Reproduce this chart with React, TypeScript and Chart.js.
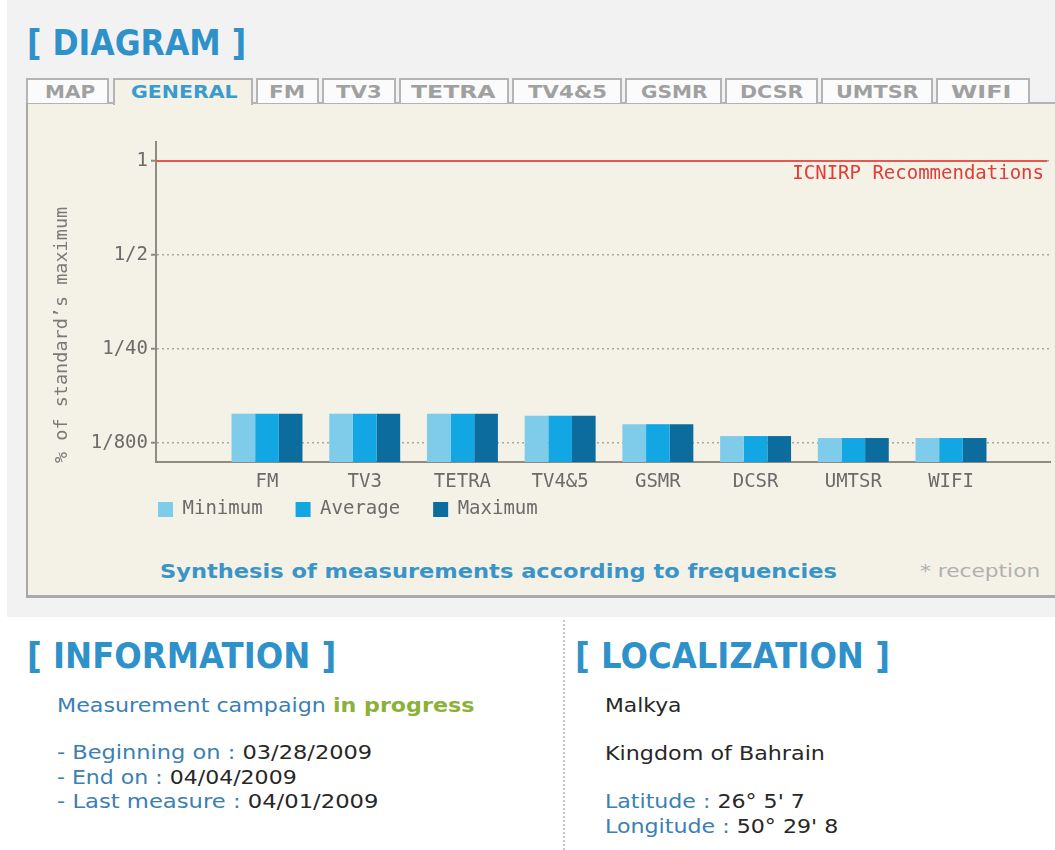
import React, { useEffect, useLayoutEffect, useRef } from "react";
import { Chart, registerables } from "chart.js";

Chart.register(...registerables);

// ---------- data ----------
const CATEGORIES = ["FM", "TV3", "TETRA", "TV4&5", "GSMR", "DCSR", "UMTSR", "WIFI"];
// bar heights, in units of the level axis (0 = "1/800", 1 = "1/40", 2 = "1/2", 3 = "1")
const MINIMUM = [0.31, 0.31, 0.31, 0.29, 0.2, 0.074, 0.053, 0.053];
const AVERAGE = [0.31, 0.31, 0.31, 0.29, 0.2, 0.074, 0.053, 0.053];
const MAXIMUM = [0.31, 0.31, 0.31, 0.29, 0.2, 0.074, 0.053, 0.053];
const SERIES_NAMES = ["Minimum", "Average", "Maximum"];
const Y_TICK_LABELS = ["1/800", "1/40", "1/2", "1"];
const LIMIT_LEVEL = 3;
const LIMIT_LABEL = "ICNIRP Recommendations";
const Y_TITLE = "% of standard\u2019s maximum";
const TAB_LABELS = ["MAP", "GENERAL", "FM", "TV3", "TETRA", "TV4&5", "GSMR", "DCSR", "UMTSR", "WIFI"];
const ACTIVE_TAB = "GENERAL";

// ---------- styles / layout ----------
const MONO = "'DejaVu Sans Mono', monospace";
const SANS = "'DejaVu Sans', Verdana, sans-serif";
const SERIES_COLORS = ["#7ecbea", "#12a6e2", "#0b6c9d"];
const AXIS_COLOR = "#8e8b84";
const GRID_COLOR = "#aaa79d";
const TICK_TEXT = "#6b6b6b";
const BLUE_HEAD = "#2f91c9";
const BLUE_LABEL = "#3a80b2";
const DARK = "#272727";
const GREEN = "#8ab23a";

const YMIN = -0.202;
const YMAX = 3.202;
const XMIN = -1.136;
const XMAX = 8.013;

// [left, right, textStart, textEnd] for each tab
const TAB_LAYOUT: number[][] = [
  [26, 109, 45, 95],
  [113, 253, 131, 238],
  [256, 319, 269, 305],
  [322, 396, 336, 382],
  [399, 509, 411, 496],
  [512, 622, 528, 607],
  [625, 722, 641, 708],
  [725, 818, 740, 803],
  [821, 933, 836, 919],
  [936, 1030, 951, 1012],
];

function FitText(props: any) {
  const { x, baseline, size, width, bold, color, children } = props;
  const ref = useRef<HTMLDivElement>(null);
  useLayoutEffect(() => {
    const el = ref.current;
    if (!el || !width) return;
    el.style.transform = "none";
    const w = el.offsetWidth;
    if (w > 0) el.style.transform = `scaleX(${width / w})`;
  });
  return (
    <div
      ref={ref}
      style={{
        position: "absolute",
        left: x,
        top: baseline - 0.846 * size,
        fontSize: size,
        lineHeight: `${size}px`,
        fontFamily: SANS,
        fontWeight: bold ? "bold" : "normal",
        color,
        whiteSpace: "nowrap",
        transformOrigin: "0 0",
      }}
    >
      {children}
    </div>
  );
}

const overlayPlugin = {
  id: "overlay",
  afterLayout(chart: any) {
    const lg = chart.legend;
    if (lg) {
      const h = lg.height;
      lg.left = 99;
      lg.top = chart.chartArea.bottom + 5;
      lg.bottom = lg.top + h;
    }
  },
  afterDatasetsDraw(chart: any) {
    const { ctx, chartArea, scales } = chart;
    const y = scales.y.getPixelForValue(LIMIT_LEVEL);
    ctx.save();
    ctx.strokeStyle = "#e8574e";
    ctx.lineWidth = 2;
    ctx.beginPath();
    ctx.moveTo(chartArea.left, y);
    ctx.lineTo(chartArea.right - 3, y);
    ctx.stroke();
    ctx.fillStyle = "#e03c38";
    ctx.font = `19px ${MONO}`;
    ctx.textAlign = "right";
    ctx.textBaseline = "middle";
    ctx.fillText(LIMIT_LABEL, chartArea.right - 6, y + 13);
    ctx.translate(36, chartArea.bottom + 1);
    ctx.rotate(-Math.PI / 2);
    ctx.fillStyle = "#7a7a7a";
    ctx.font = `18.5px ${MONO}`;
    ctx.textAlign = "left";
    ctx.textBaseline = "middle";
    ctx.fillText(Y_TITLE, 0, 0);
    ctx.restore();
  },
};

function DiagramChart() {
  const canvasRef = useRef<HTMLCanvasElement>(null);
  useEffect(() => {
    const series = [MINIMUM, AVERAGE, MAXIMUM];
    const chart = new Chart(canvasRef.current as HTMLCanvasElement, {
      type: "bar",
      data: {
        datasets: series.map((vals, s) => ({
          label: SERIES_NAMES[s],
          data: vals.map((v, i) => ({ x: i, y: v })),
          backgroundColor: SERIES_COLORS[s],
          borderWidth: 0,
          base: YMIN,
          categoryPercentage: 0.726,
          barPercentage: 1,
        })) as any,
      },
      options: {
        animation: false,
        responsive: true,
        maintainAspectRatio: false,
        layout: { padding: { top: 39, right: 5, left: 0, bottom: 0 } },
        plugins: {
          tooltip: { enabled: false },
          legend: {
            display: true,
            position: "bottom",
            align: "start",
            labels: {
              boxWidth: 15,
              boxHeight: 15,
              padding: 33,
              color: TICK_TEXT,
              font: { family: MONO, size: 19 },
            },
          },
        },
        scales: {
          x: {
            type: "linear",
            min: XMIN,
            max: XMAX,
            offset: false,
            grid: { display: true, drawOnChartArea: false, drawTicks: false },
            border: { display: true, color: AXIS_COLOR, width: 2 },
            afterBuildTicks: (s: any) => {
              s.ticks = CATEGORIES.map((_, i) => ({ value: i }));
            },
            afterFit: (s: any) => {
              s.height = 30;
            },
            ticks: {
              display: true,
              callback: (v: any) => CATEGORIES[Math.round(Number(v))],
              color: TICK_TEXT,
              font: { family: MONO, size: 19 },
              padding: 9,
              autoSkip: false,
              maxRotation: 0,
              minRotation: 0,
            },
          },
          y: {
            type: "linear",
            min: YMIN,
            max: YMAX,
            grid: {
              color: GRID_COLOR,
              lineWidth: 1.5,
              drawTicks: true,
              tickLength: 5,
              tickColor: AXIS_COLOR,
              tickWidth: 2,
              tickBorderDash: [],
            },
            border: { display: true, color: AXIS_COLOR, width: 2, dash: [2, 3] },
            afterBuildTicks: (s: any) => {
              s.ticks = Y_TICK_LABELS.map((_, i) => ({ value: i }));
            },
            afterFit: (s: any) => {
              s.width = 130;
            },
            ticks: {
              callback: (v: any) => Y_TICK_LABELS[Math.round(Number(v))],
              color: TICK_TEXT,
              font: { family: MONO, size: 19 },
              padding: 3,
            },
          },
        },
      } as any,
      plugins: [overlayPlugin as any],
    });
    return () => chart.destroy();
  }, []);
  return (
    <div style={{ position: "absolute", left: 26, top: 103, width: 1029, height: 451 }}>
      <canvas ref={canvasRef} style={{ display: "block" }} />
    </div>
  );
}

export default function App() {
  return (
    <div
      style={{
        position: "absolute",
        left: 0,
        top: 0,
        width: 1055,
        height: 850,
        overflow: "hidden",
        background: "#ffffff",
        fontFamily: SANS,
      }}
    >
      {/* gray page area */}
      <div style={{ position: "absolute", left: 7, top: 0, width: 1048, height: 617, background: "#f2f2f2" }} />

      <FitText x={27} baseline={56} size={35} width={219} bold color={BLUE_HEAD}>
        [ DIAGRAM ]
      </FitText>

      {/* panel */}
      <div
        style={{
          position: "absolute",
          left: 26,
          top: 102,
          width: 1050,
          height: 496,
          boxSizing: "border-box",
          background: "#f4f1e6",
          borderTop: "2px solid #b3b3b3",
          borderLeft: "2px solid #a6a6a6",
          borderBottom: "3px solid #a9a9a9",
        }}
      />

      {/* tabs */}
      {TAB_LABELS.map((label, i) => {
        const [l, r, ts, te] = TAB_LAYOUT[i];
        const active = label === ACTIVE_TAB;
        return (
          <React.Fragment key={label}>
            <div
              style={{
                position: "absolute",
                left: l,
                top: 78,
                width: r - l,
                height: active ? 27 : 25,
                boxSizing: "border-box",
                background: active ? "#f4f1e6" : "#fbfbfb",
                border: "2px solid #b4b4b4",
                borderBottom: "none",
              }}
            />
            <FitText x={ts} baseline={98} size={18} width={te - ts} bold color={active ? "#3a9bd0" : "#a0a0a0"}>
              {label}
            </FitText>
          </React.Fragment>
        );
      })}

      <DiagramChart />

      <FitText x={160} baseline={578} size={19} width={677} bold color="#3a94c8">
        Synthesis of measurements according to frequencies
      </FitText>
      <FitText x={920} baseline={577} size={17} width={120} color="#b0b0b0">
        * reception
      </FitText>

      {/* bottom sections */}
      <div style={{ position: "absolute", left: 563, top: 620, height: 230, borderLeft: "2px dotted #c6c6c6" }} />

      <FitText x={27} baseline={669} size={35} width={309} bold color={BLUE_HEAD}>
        [ INFORMATION ]
      </FitText>
      <FitText x={575} baseline={669} size={35} width={315} bold color={BLUE_HEAD}>
        [ LOCALIZATION ]
      </FitText>

      <FitText x={57} baseline={712} size={19} width={417} color={BLUE_LABEL}>
        Measurement campaign <span style={{ color: GREEN, fontWeight: "bold" }}>in progress</span>
      </FitText>
      <FitText x={57} baseline={759} size={19} width={315} color={BLUE_LABEL}>
        - Beginning on : <span style={{ color: DARK }}>03/28/2009</span>
      </FitText>
      <FitText x={57} baseline={784} size={19} width={240} color={BLUE_LABEL}>
        - End on : <span style={{ color: DARK }}>04/04/2009</span>
      </FitText>
      <FitText x={57} baseline={808} size={19} width={321} color={BLUE_LABEL}>
        - Last measure : <span style={{ color: DARK }}>04/01/2009</span>
      </FitText>

      <FitText x={605} baseline={712} size={19} width={77} color={DARK}>
        Malkya
      </FitText>
      <FitText x={605} baseline={760} size={19} width={220} color={DARK}>
        Kingdom of Bahrain
      </FitText>
      <FitText x={605} baseline={808} size={19} width={200} color={BLUE_LABEL}>
        Latitude : <span style={{ color: DARK }}>26° 5' 7</span>
      </FitText>
      <FitText x={605} baseline={833} size={19} width={233} color={BLUE_LABEL}>
        Longitude : <span style={{ color: DARK }}>50° 29' 8</span>
      </FitText>
    </div>
  );
}
